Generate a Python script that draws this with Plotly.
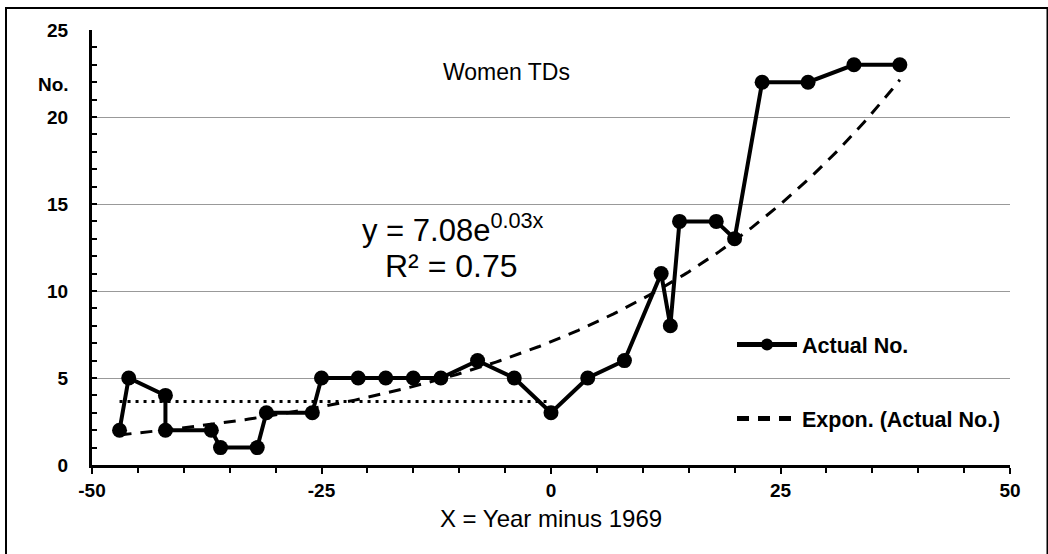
import numpy as np
import plotly.graph_objects as go

# Women TDs elected at each general election, x = election year minus 1969
years_from_1969 = [-47, -46, -42, -42, -37, -36, -32, -31, -26, -25,
                   -21, -18, -15, -12, -8, -4, 0, 4, 8, 12,
                   13, 14, 18, 20, 23, 28, 33, 38]
women_tds = [2, 5, 4, 2, 2, 1, 1, 3, 3, 5,
             5, 5, 5, 5, 6, 5, 3, 5, 6, 11,
             8, 14, 14, 13, 22, 22, 23, 23]

# Exponential trend y = a * e^(b x)
trend_a = 7.08
trend_b = 0.03
trend_r2 = 0.75

x_ticks = [-50, -25, 0, 25, 50]
y_ticks = [0, 5, 10, 15, 20, 25]

FONT = "Arial, Liberation Sans, sans-serif"

# plot-area geometry in pixels (used to place the frame and the labels)
L, R, T, B = 92, 38, 30, 89
W, H = 1048, 554
PW, PH = W - L - R, H - T - B


def px_x(p):
    return (p - L) / PW


def px_y(p):
    return (H - B - p) / PH


fig = go.Figure()

# average level up to 1969 (dotted)
pre = [v for x, v in zip(years_from_1969, women_tds) if x <= 0]
pre_x = [x for x in years_from_1969 if x <= 0]
pre_mean = float(np.mean(pre))
fig.add_trace(go.Scatter(
    x=[min(pre_x), max(pre_x)], y=[pre_mean, pre_mean],
    mode="lines", line=dict(color="black", width=3, dash="3px,5px"),
    showlegend=False, hoverinfo="skip"))

fig.add_trace(go.Scatter(
    x=years_from_1969, y=women_tds, mode="lines+markers",
    name="Actual No.", legendgroup="a",
    line=dict(color="black", width=4),
    marker=dict(color="black", size=15)))

tx = np.linspace(min(years_from_1969), max(years_from_1969), 200)
ty = trend_a * np.exp(trend_b * tx)
fig.add_trace(go.Scatter(
    x=tx, y=ty, mode="lines", name="Expon. (Actual No.)", legendgroup="b",
    line=dict(color="black", width=3, dash="12px,9px")))

fig.update_layout(
    width=W, height=H,
    margin=dict(l=L, r=R, t=T, b=B),
    paper_bgcolor="white", plot_bgcolor="white",
    font=dict(family=FONT, color="black"),
    legend=dict(
        x=px_x(732), y=px_y(324), xanchor="left", yanchor="top",
        bgcolor="rgba(0,0,0,0)", tracegroupgap=43, itemwidth=60,
        itemsizing="constant",
        font=dict(size=21.5, family=FONT, weight="bold"),
    ),
    showlegend=True,
)

fig.update_xaxes(
    range=[-50, 50], tickvals=x_ticks, ticktext=[str(v) for v in x_ticks],
    showgrid=False, zeroline=False,
    showline=True, linecolor="black", linewidth=3,
    ticks="outside", ticklen=6, tickwidth=2, tickcolor="black",
    minor=dict(dtick=5, ticks="outside", ticklen=5, tickwidth=2, tickcolor="black"),
    tickfont=dict(size=19, family=FONT, weight="bold"),
    title=dict(text="X = Year minus 1969", font=dict(size=24, family=FONT), standoff=11),
)
fig.update_yaxes(
    range=[0, 25], tickvals=y_ticks, ticktext=[str(v) for v in y_ticks],
    showgrid=True, gridcolor="#999999", gridwidth=1, zeroline=False,
    showline=True, linecolor="black", linewidth=3,
    ticks="inside", ticklen=5, tickwidth=2, tickcolor="black",
    minor=dict(dtick=1, ticks="inside", ticklen=5, tickwidth=2, tickcolor="black",
               showgrid=False),
    tickfont=dict(size=19, family=FONT, weight="bold"),
    ticklabelstandoff=17,
)

fig.add_annotation(text="Women TDs", xref="paper", yref="paper",
                   x=px_x(506), y=px_y(57), showarrow=False,
                   font=dict(size=23, family=FONT))
fig.add_annotation(text="No.", xref="paper", yref="paper",
                   x=px_x(71), y=px_y(72), xanchor="right", showarrow=False,
                   font=dict(size=19, family=FONT, weight="bold"))
fig.add_annotation(text=f"y = {trend_a:.2f}e<sup>{trend_b:.2f}x</sup>",
                   xref="paper", yref="paper",
                   x=px_x(453), y=px_y(228), showarrow=False,
                   font=dict(size=31, family=FONT))
fig.add_annotation(text=f"R² = {trend_r2:.2f}",
                   xref="paper", yref="paper",
                   x=px_x(451), y=px_y(266), showarrow=False,
                   font=dict(size=32, family=FONT))

# frame around the whole chart
fig.add_shape(type="rect", xref="paper", yref="paper",
              x0=px_x(6), x1=px_x(1047.5), y0=px_y(556), y1=px_y(8),
              line=dict(color="black", width=2), fillcolor="rgba(0,0,0,0)",
              layer="below")

fig.write_html("out.html")
